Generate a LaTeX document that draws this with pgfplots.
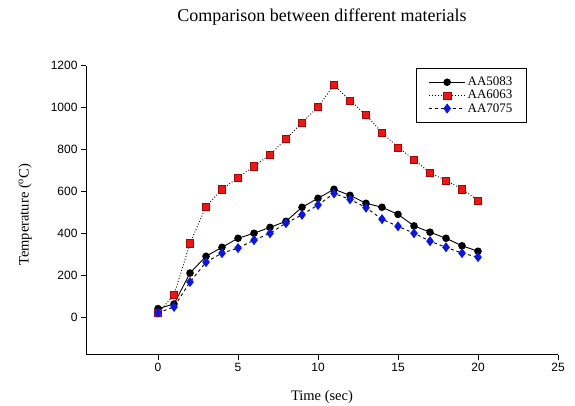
\documentclass[border=0pt]{standalone}
\usepackage{pgfplots}
\pgfplotsset{compat=1.18}
\usepackage{fontspec}
\setmainfont{Liberation Serif}
\newfontfamily\arialfont{Liberation Sans}
\definecolor{mred}{RGB}{240,20,20}
\definecolor{mblue}{RGB}{10,20,235}
\begin{document}
\begin{tikzpicture}[x=1pt,y=1pt]
\useasboundingbox (0,0) rectangle (575,406);
\begin{axis}[
  at={(86pt,51.3pt)}, anchor=south west,
  scale only axis, width=472pt, height=289pt,
  xmin=-4.5, xmax=25, ymin=-180, ymax=1200,
  axis lines=left, axis line style={-, line width=1pt, black},
  xtick={0,5,...,25}, ytick={0,200,...,1200},
  tick align=outside, major tick length=5pt, tick style={line width=0.8pt, black},
  /pgf/number format/assume math mode=true,
  /pgf/number format/1000 sep={},
  tick label style={font=\arialfont\fontsize{12}{12}\selectfont},
  xlabel={Time (sec)},
  ylabel={Temperature (\textsuperscript{o}C)},
  title={Comparison between different materials},
  xlabel style={at={(axis description cs:0.5,-0.145)}, anchor=center, font=\fontsize{14.5}{14.5}\selectfont},
  ylabel style={at={(axis description cs:-0.129,0.484)}, anchor=center, rotate=0, font=\fontsize{14.5}{14.5}\selectfont},
  title style={at={(axis description cs:0.5,1.149)}, anchor=center, font=\fontsize{18}{18}\selectfont},
  legend style={at={(axis description cs:0.934,0.993)}, anchor=north east, draw=black, line width=0.9pt,
     font=\fontsize{13}{13}\selectfont, inner xsep=12pt, inner ysep=7pt, row sep=-1pt},
  legend cell align=left,
  legend image code/.code={\draw[mark repeat=2,mark phase=2] plot coordinates {(0pt,0pt) (18pt,0pt) (36pt,0pt)};},
]
\addplot[black, solid, line width=0.9pt, mark=*, mark size=3.3pt, mark options={solid, fill=black}] coordinates {
(0,40) (1,62) (2,210) (3,290) (4,333) (5,376) (6,400) (7,428) (8,457) (9,524) (10,567)
(11,610) (12,581) (13,543) (14,524) (15,490) (16,435) (17,405) (18,376) (19,340) (20,314)};
\addlegendentry{AA5083}
\addplot[black, dotted, line width=0.9pt, mark=square*, mark size=3.6pt, mark options={solid, fill=mred, draw=red!70!black, line width=0.5pt}] coordinates {
(0,20) (1,105) (2,352) (3,528) (4,610) (5,665) (6,720) (7,775) (8,850) (9,928) (10,1003)
(11,1108) (12,1033) (13,965) (14,880) (15,810) (16,752) (17,688) (18,652) (19,610) (20,557)};
\addlegendentry{AA6063}
\addplot[black, dashed, line width=0.9pt, mark=diamond*, mark size=4.3pt, mark options={solid, fill=mblue, draw=mblue}] coordinates {
(0,20) (1,48) (2,167) (3,262) (4,305) (5,329) (6,367) (7,400) (8,448) (9,488) (10,535)
(11,590) (12,562) (13,522) (14,467) (15,433) (16,400) (17,362) (18,333) (19,305) (20,286)};
\addlegendentry{AA7075}
\end{axis}
\end{tikzpicture}
\end{document}
